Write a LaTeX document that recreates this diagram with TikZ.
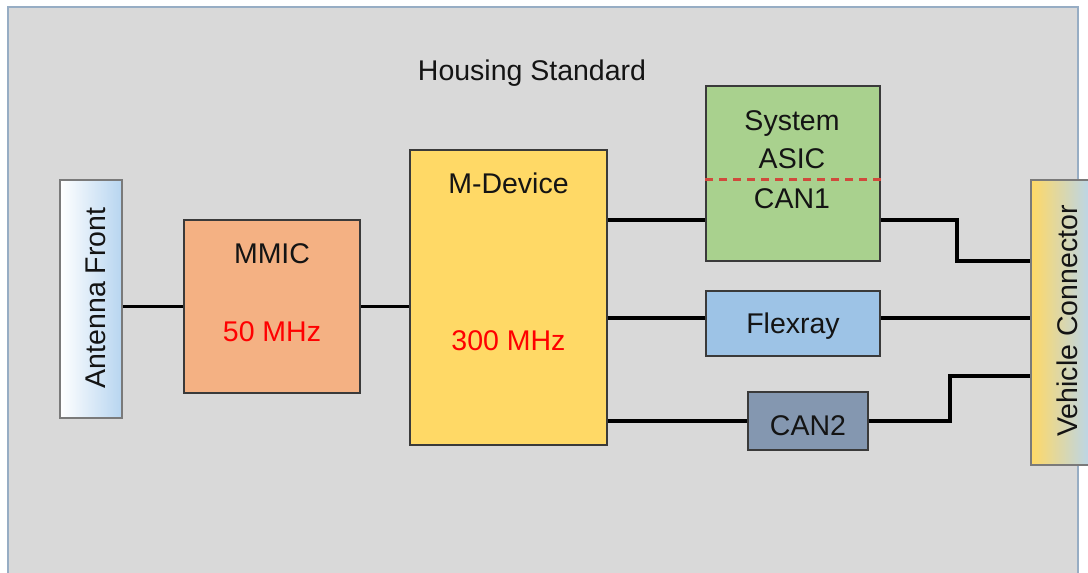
\documentclass[tikz,border=0pt]{standalone}
\usepackage{fontspec}
\setmainfont{Liberation Sans}
\usetikzlibrary{positioning}
\definecolor{housefill}{HTML}{D9D9D9}
\definecolor{houseline}{HTML}{97ADC4}
\definecolor{blkline}{HTML}{3A3A3A}
\definecolor{endline}{HTML}{7A7A7A}
\definecolor{txtcol}{HTML}{141414}
\definecolor{mmicfill}{HTML}{F4B183}
\definecolor{mdevfill}{HTML}{FFD966}
\definecolor{asicfill}{HTML}{A9D18E}
\definecolor{flexfill}{HTML}{9DC3E6}
\definecolor{canfill}{HTML}{8497B0}
\definecolor{antblue}{HTML}{B7D5F0}
\definecolor{dashred}{HTML}{D04A3C}

\begin{document}
\begin{tikzpicture}[x=1pt,y=-1pt,
    blk/.style={draw=blkline, line width=1.6pt, inner sep=0pt},
    endblk/.style={draw=endline, line width=1.4pt, inner sep=0pt},
    txt/.style={anchor=base, font=\fontsize{28.5}{30}\selectfont, text=txtcol, inner sep=0pt},
    freq/.style={txt, text=red},
    wire/.style={line width=3.2pt, black}]
\useasboundingbox (0,0) rectangle (1088,573);
\fill[white] (0,0) rectangle (1088,573);

% housing
\node[draw=houseline, fill=housefill, line width=2pt, minimum width=1070pt, minimum height=568pt] (housing) at (543,291) {};
\node[txt] (title) at (532,80) {Housing Standard};

% blocks
\node[endblk, left color=white, right color=antblue, minimum width=62pt, minimum height=238pt] (ant) at (91,299) {};
\node[txt, rotate=90] (antlabel) at (105,298) {Antenna Front};
\node[blk, fill=mmicfill, minimum width=176pt, minimum height=173pt] (mmic) at (272,306.5) {};
\node[txt] (mmicname) at (272,263) {MMIC};
\node[freq] (mmicfreq) at (272,341) {50 MHz};
\node[blk, fill=mdevfill, minimum width=197pt, minimum height=295pt] (mdev) at (508.5,297.5) {};
\node[txt] (mdevname) at (508.5,193) {M-Device};
\node[freq] (mdevfreq) at (508.5,350) {300 MHz};
\node[blk, fill=asicfill, minimum width=174pt, minimum height=175pt] (asic) at (793,173.5) {};
\node[txt] (asicname) at (792,130) {System};
\node[txt] (asicname2) at (792,168) {ASIC};
\node[txt] (can1) at (792,208) {CAN1};
\node[blk, fill=flexfill, minimum width=174pt, minimum height=65pt] (flex) at (793,323.5) {};
\node[txt] (flexname) at (793,333) {Flexray};
\node[blk, fill=canfill, minimum width=120pt, minimum height=58pt] (can2) at (808,421) {};
\node[txt] (can2name) at (808,435) {CAN2};
\node[endblk, left color=mdevfill, right color=antblue, minimum width=62pt, minimum height=285pt] (vc) at (1062,322.5) {};
\node[txt, rotate=90] (vclabel) at (1077,321) {Vehicle Connector};

% levels
\coordinate (ydash) at (0,179);
\coordinate (ycan1) at (0,220);
\coordinate (yvc1) at (0,261);
\coordinate (yflex) at (0,318);
\coordinate (yvc3) at (0,376);
\coordinate (xk1) at (957,0);
\coordinate (xk2) at (950,0);

\draw[dashred, line width=3pt, dash pattern=on 8pt off 6pt] (asic.west |- ydash) -- (asic.east |- ydash);

% wires
\draw[wire] (ant.east |- mmic.west) -- (mmic.west);
\draw[wire] (mmic.east) -- (mdev.west |- mmic.east);
\draw[wire] (mdev.east |- ycan1) -- (asic.west |- ycan1);
\draw[wire] (asic.east |- ycan1) -- (xk1 |- ycan1) -- (xk1 |- yvc1) -- (vc.west |- yvc1);
\draw[wire] (mdev.east |- yflex) -- (flex.west |- yflex);
\draw[wire] (flex.east |- yflex) -- (vc.west |- yflex);
\draw[wire] (mdev.east |- can2.west) -- (can2.west);
\draw[wire] (can2.east) -- (xk2 |- can2.east) -- (xk2 |- yvc3) -- (vc.west |- yvc3);
\end{tikzpicture}
\end{document}
